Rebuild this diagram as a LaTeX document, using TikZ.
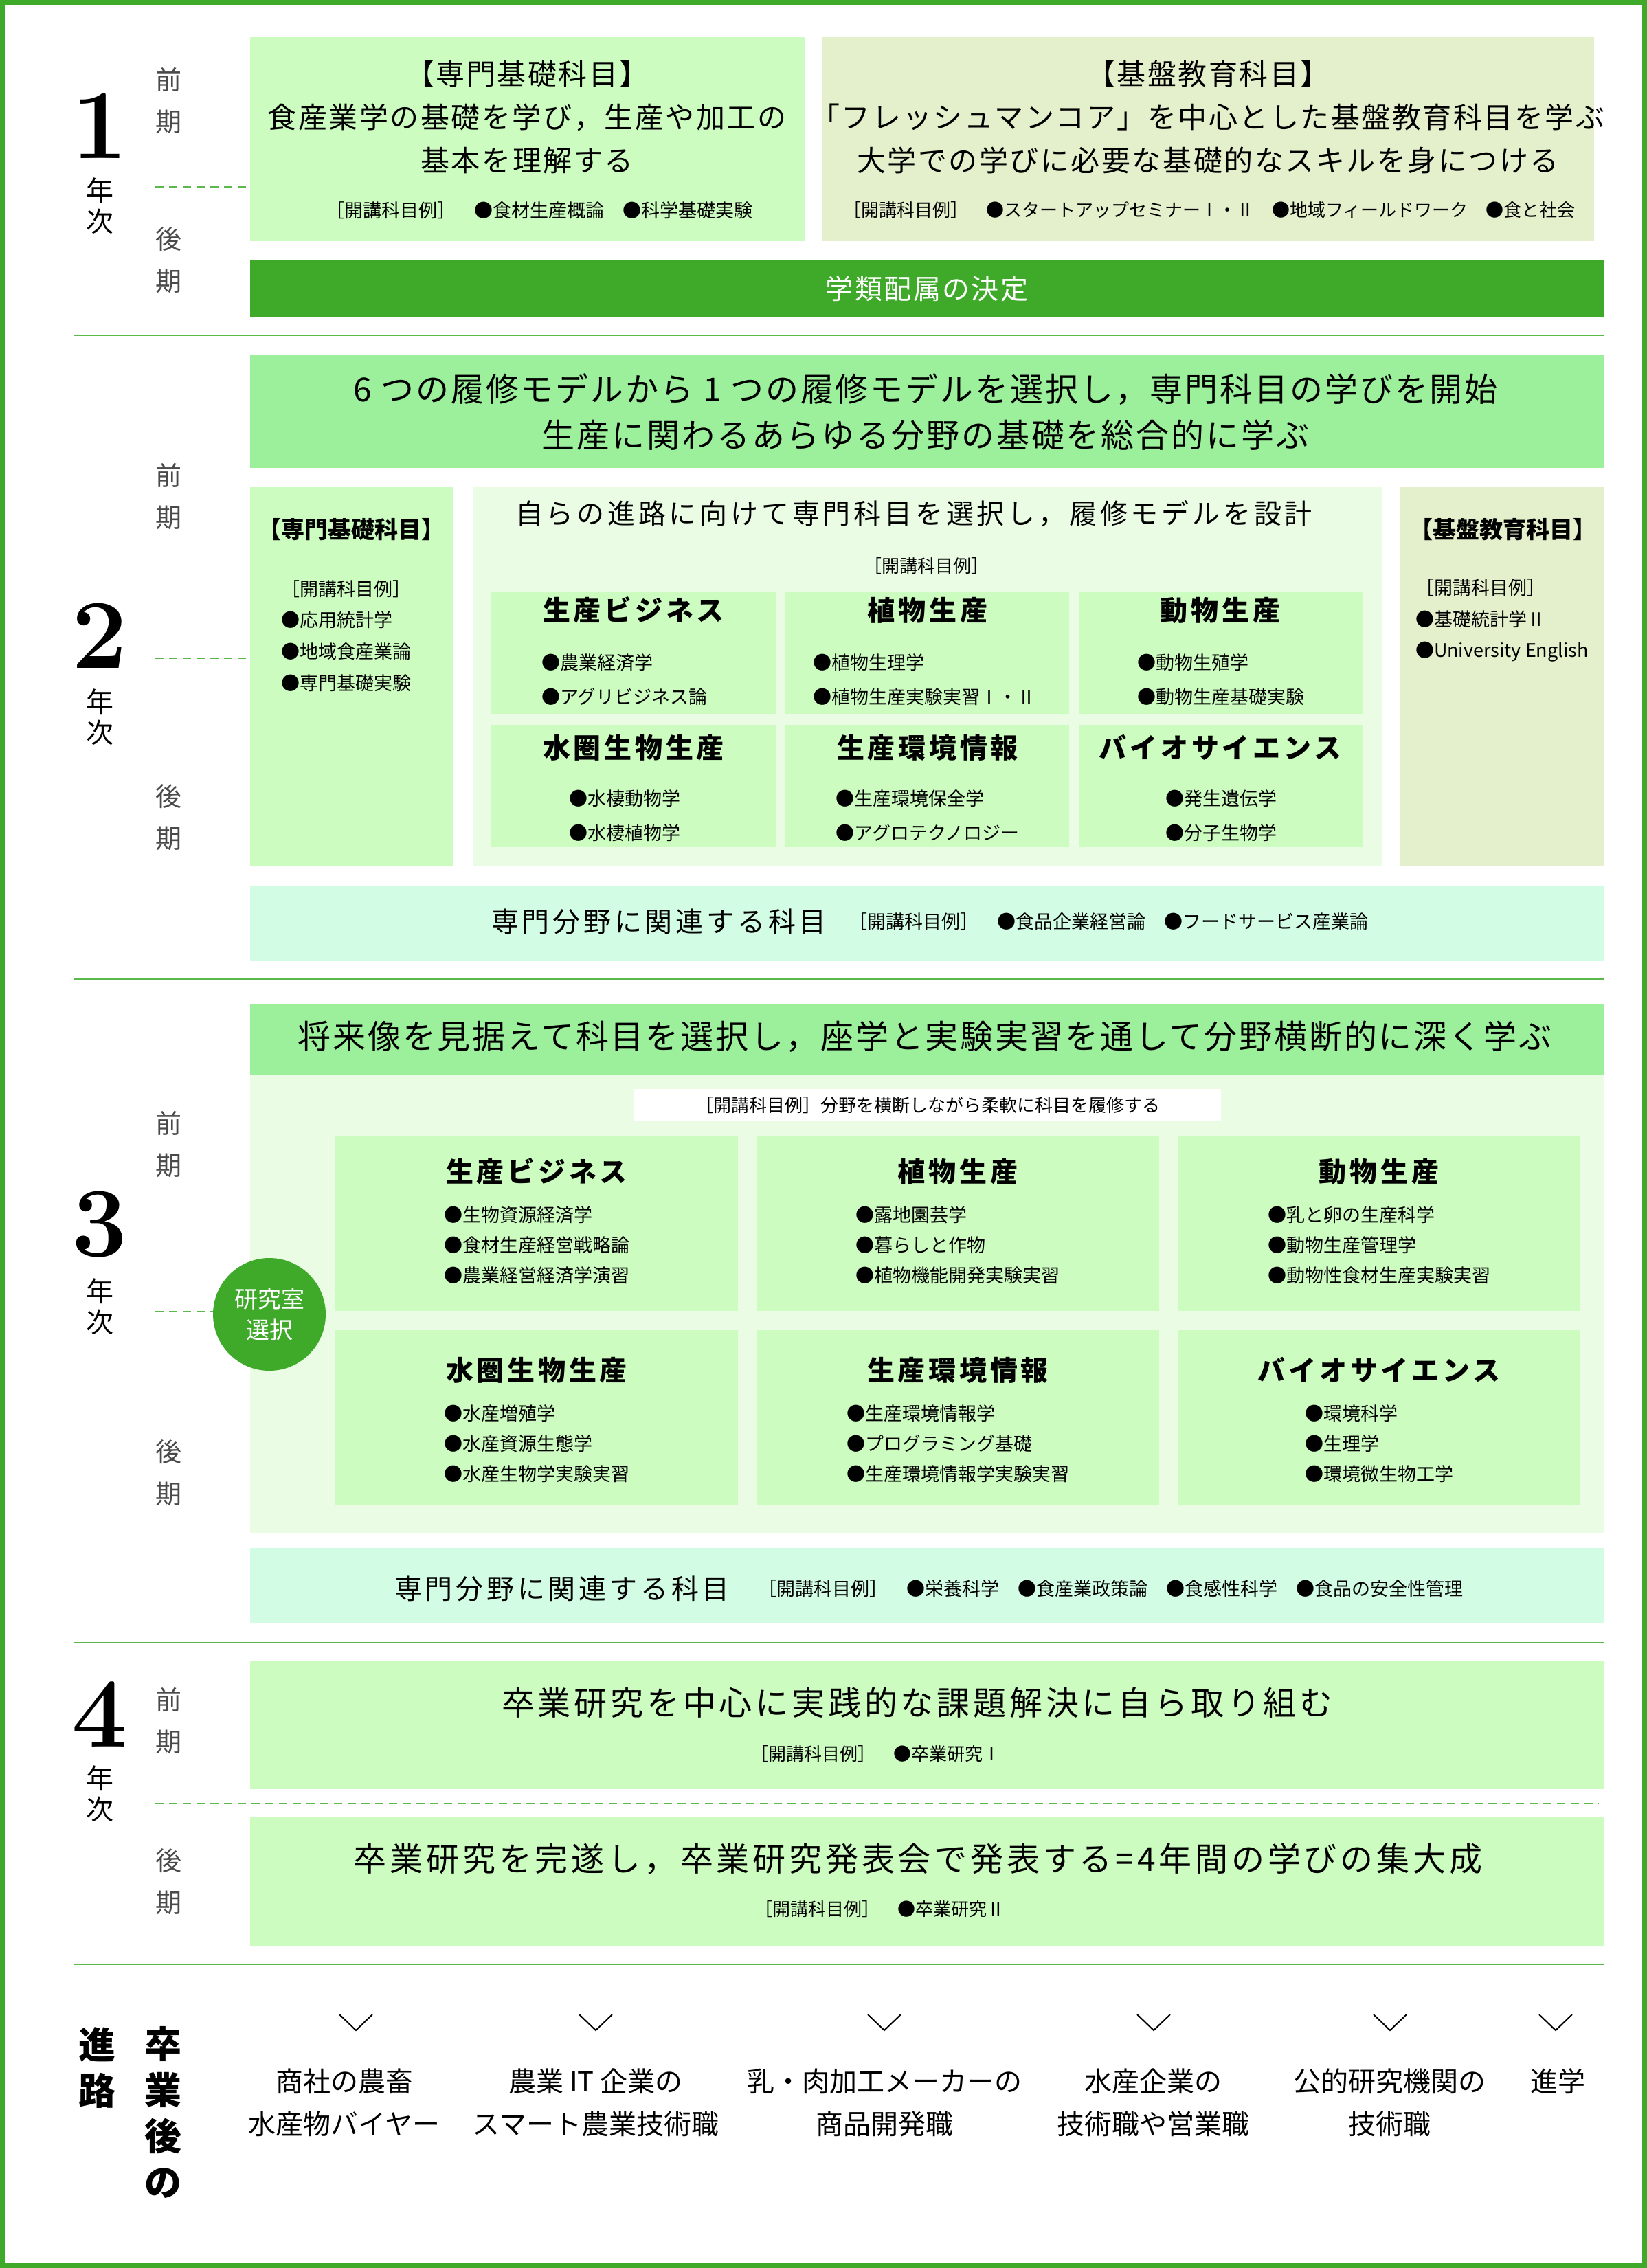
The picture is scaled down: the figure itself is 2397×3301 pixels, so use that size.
\documentclass[tikz,border=0pt]{standalone}
\usepackage{fontspec}
\newfontfamily\jp{Noto Sans CJK JP}
\newfontfamily\jpsp{Noto Sans CJK JP}[LetterSpace=6]
\newfontfamily\jpsw{Noto Sans CJK JP}[LetterSpace=10]
\newfontfamily\jpsq{Noto Sans CJK JP}[LetterSpace=12]
\definecolor{grn}{HTML}{3FAA29}
\definecolor{sepc}{HTML}{5BB84B}
\definecolor{lb}{HTML}{CCFCC0}
\definecolor{olv}{HTML}{E4F0CB}
\definecolor{bandg}{HTML}{9DF09B}
\definecolor{cont}{HTML}{EAFCE4}
\definecolor{mint}{HTML}{D2FCE4}
\definecolor{kig}{HTML}{4A4A4A}
\newcommand\bx[6]{\node[bxs, fill=#2, minimum width={(#5)-(#3)}, minimum height={(#6)-(#4)}] (#1) at ({((#3)+(#5))/2},{((#4)+(#6))/2}) {};}
\tikzset{
 bxs/.style={rectangle, inner sep=0pt, outer sep=0pt, draw=none},
 every node/.append style={inner sep=0pt, outer sep=0pt},
 head/.style={font=\jpsp\fontsize{42}{63}\selectfont, align=center},
 sub/.style={font=\jp\fontsize{26}{30}\selectfont},
 subl/.style={font=\jp\fontsize{27}{30}\selectfont},
 big/.style={font=\jpsp\fontsize{48}{67}\selectfont, align=center},
 ttl/.style={font=\jpsq\bfseries\fontsize{40}{40}\selectfont},
 items/.style={font=\jp\fontsize{27}{#1}\selectfont, align=left},
 num/.style={font=\bfseries\fontsize{144}{144}\selectfont},
 nen/.style={font=\jp\fontsize{40}{45}\selectfont, align=center},
 ki/.style={font=\jp\fontsize{38}{61}\selectfont, align=center, text=kig},
 sepl/.style={draw=sepc, line width=2.5pt},
 dsh/.style={draw=sepc, line width=2pt, dash pattern=on 12pt off 8pt},
 chev/.style={draw=black, line width=2pt},
 car/.style={font=\jp\fontsize{40}{62}\selectfont, align=center},
 cv/.style={font=\jp\bfseries\fontsize{54}{67}\selectfont, align=center},
 rel/.style={font=\jpsq\fontsize{40}{40}\selectfont},
 head2/.style={font=\jp\bfseries\fontsize{34}{34}\selectfont},
 y4h/.style={font=\jpsw\fontsize{48}{48}\selectfont},
}
\begin{document}
\begin{tikzpicture}[x=1pt,y=-1pt]
\useasboundingbox (0,0) rectangle (2397,3301);
\fill[white] (0,0) rectangle (2397,3301);
\draw[grn, line width=7pt] (3.5,3.5) rectangle (2393.5,3297.5);

% ===== Year 1 =====
\bx{y1a}{lb}{364}{54}{1171}{351}
\bx{y1b}{olv}{1196}{54}{2320}{351}
\bx{y1band}{grn}{364}{378}{2335}{461}
\node[head] (y1at) at (767,170) {【専門基礎科目】\\食産業学の基礎を学び，生産や加工の\\基本を理解する};
\node[subl] (y1as) at (785,306) {［開講科目例］\quad●食材生産概論\quad●科学基礎実験};
\node[head] (y1bt) at (1758,170) {【基盤教育科目】\\「フレッシュマンコア」を中心とした基盤教育科目を学ぶ\\大学での学びに必要な基礎的なスキルを身につける};
\node[sub] (y1bs) at (1760,306) {［開講科目例］\quad●スタートアップセミナーⅠ・Ⅱ\quad●地域フィールドワーク\quad●食と社会};
\node[font=\jpsp\fontsize{40}{40}\selectfont, text=white] (y1bandt) at (1349,420) {学類配属の決定};
\node[num] (n1) at (145,183) {1};
\node[nen] (nj1) at (145,300) {年\\次};
\node[ki] (k1a) at (245,146.5) {前\\期};
\node[ki] (k1b) at (245,378.5) {後\\期};
\coordinate (d1s) at (226,272);
\draw[dsh] (d1s) -- (d1s -| y1a.west);

% ===== Year 2 =====
\coordinate (s1a) at (107,488); \coordinate (s1b) at (2335,488);
\draw[sepl] (s1a) -- (s1b);
\bx{y2band}{bandg}{364}{516}{2335}{681}
\node[big] (y2bt) at (1347,599.5) {6 つの履修モデルから 1 つの履修モデルを選択し，専門科目の学びを開始\\生産に関わるあらゆる分野の基礎を総合的に学ぶ};
\bx{y2l}{lb}{364}{709}{660}{1261}
\node[head2] (y2lt) at (511,771) {【専門基礎科目】};
\node[items=45.7, anchor=west] (y2ll) at (409,925.5) {［開講科目例］\\●応用統計学\\●地域食産業論\\●専門基礎実験};
\bx{y2m}{cont}{689}{709}{2011}{1261}
\node[font=\jpsq\fontsize{40}{40}\selectfont] (y2mt) at (1330,748) {自らの進路に向けて専門科目を選択し，履修モデルを設計};
\node[sub] (y2ms) at (1348,824) {［開講科目例］};
\bx{y2c11}{lb}{715}{862}{1129}{1039}
\bx{y2c12}{lb}{1143}{862}{1556}{1039}
\bx{y2c13}{lb}{1570}{862}{1983}{1039}
\bx{y2c21}{lb}{715}{1055}{1129}{1233}
\bx{y2c22}{lb}{1143}{1055}{1556}{1233}
\bx{y2c23}{lb}{1570}{1055}{1983}{1233}
\node[ttl] (y2t11) at (922,888) {生産ビジネス};
\node[ttl] (y2t12) at (1350,888) {植物生産};
\node[ttl] (y2t13) at (1776,888) {動物生産};
\node[ttl] (y2t21) at (922,1088) {水圏生物生産};
\node[ttl] (y2t22) at (1350,1088) {生産環境情報};
\node[ttl] (y2t23) at (1776,1088) {バイオサイエンス};
\node[items=50] (y2i11) at (909,989) {●農業経済学\\●アグリビジネス論};
\node[items=50] (y2i12) at (1345,989) {●植物生理学\\●植物生産実験実習Ⅰ・Ⅱ};
\node[items=50] (y2i13) at (1777,989) {●動物生殖学\\●動物生産基礎実験};
\node[items=50] (y2i21) at (909,1187.5) {●水棲動物学\\●水棲植物学};
\node[items=50] (y2i22) at (1350,1187.5) {●生産環境保全学\\●アグロテクノロジー};
\node[items=50] (y2i23) at (1777,1187.5) {●発生遺伝学\\●分子生物学};
\bx{y2r}{olv}{2038}{709}{2335}{1261}
\node[head2] (y2rt) at (2187,771) {【基盤教育科目】};
\node[items=45.7, anchor=west] (y2rl) at (2060,903) {［開講科目例］\\●基礎統計学Ⅱ\\●University English};
\bx{y2bot}{mint}{364}{1289}{2335}{1398}
\node[rel] (y2bott) at (959,1341) {専門分野に関連する科目};
\node[subl] (y2bots) at (1613,1341) {［開講科目例］\quad●食品企業経営論\quad●フードサービス産業論};
\node[num] (n2) at (145,925) {2};
\node[nen] (nj2) at (145,1043.5) {年\\次};
\node[ki] (k2a) at (245,722.5) {前\\期};
\node[ki] (k2b) at (245,1190) {後\\期};
\coordinate (d2s) at (226,958);
\draw[dsh] (d2s) -- (d2s -| y2l.west);

% ===== Year 3 =====
\coordinate (s2a) at (107,1425); \coordinate (s2b) at (2335,1425);
\draw[sepl] (s2a) -- (s2b);
\bx{y3band}{bandg}{364}{1461}{2335}{1564}
\node[big] (y3bt) at (1346,1509) {将来像を見据えて科目を選択し，座学と実験実習を通して分野横断的に深く学ぶ};
\bx{y3c}{cont}{364}{1564}{2335}{2231}
\bx{y3w}{white}{922}{1585}{1777}{1632}
\node[sub] (y3wt) at (1350,1609) {［開講科目例］分野を横断しながら柔軟に科目を履修する};
\bx{y3c11}{lb}{488}{1653}{1074}{1908}
\bx{y3c12}{lb}{1102}{1653}{1687}{1908}
\bx{y3c13}{lb}{1715}{1653}{2300}{1908}
\bx{y3c21}{lb}{488}{1936}{1074}{2191}
\bx{y3c22}{lb}{1102}{1936}{1687}{2191}
\bx{y3c23}{lb}{1715}{1936}{2300}{2191}
\node[ttl] (y3t11) at (781,1705) {生産ビジネス};
\node[ttl] (y3t12) at (1394,1705) {植物生産};
\node[ttl] (y3t13) at (2007,1705) {動物生産};
\node[ttl] (y3t21) at (781,1994) {水圏生物生産};
\node[ttl] (y3t22) at (1394,1994) {生産環境情報};
\node[ttl] (y3t23) at (2007,1994) {バイオサイエンス};
\node[items=44] (y3i11) at (781,1812) {●生物資源経済学\\●食材生産経営戦略論\\●農業経営経済学演習};
\node[items=44] (y3i12) at (1394,1812) {●露地園芸学\\●暮らしと作物\\●植物機能開発実験実習};
\node[items=44] (y3i13) at (2007,1812) {●乳と卵の生産科学\\●動物生産管理学\\●動物性食材生産実験実習};
\node[items=44] (y3i21) at (781,2101) {●水産増殖学\\●水産資源生態学\\●水産生物学実験実習};
\node[items=44] (y3i22) at (1394,2101) {●生産環境情報学\\●プログラミング基礎\\●生産環境情報学実験実習};
\node[items=44] (y3i23) at (2007,2101) {●環境科学\\●生理学\\●環境微生物工学};
\node[circle, fill=grn, minimum size=164pt, text=white, font=\jp\fontsize{34}{45}\selectfont, align=center] (lab) at (392,1913) {研究室\\選択};
\coordinate (d3s) at (226,1909);
\draw[dsh] (d3s) -- (d3s -| lab.west);
\node[num] (n3) at (145,1782) {3};
\node[nen] (nj3) at (145,1901.5) {年\\次};
\node[ki] (k3a) at (245,1665.5) {前\\期};
\node[ki] (k3b) at (245,2143.5) {後\\期};
\bx{y3bot}{mint}{364}{2253}{2335}{2362}
\node[rel] (y3bott) at (818,2312) {専門分野に関連する科目};
\node[subl] (y3bots) at (1616,2312) {［開講科目例］\quad●栄養科学\quad●食産業政策論\quad●食感性科学\quad●食品の安全性管理};

% ===== Year 4 =====
\coordinate (s3a) at (107,2391); \coordinate (s3b) at (2335,2391);
\draw[sepl] (s3a) -- (s3b);
\bx{y4a}{lb}{364}{2418}{2335}{2604}
\node[y4h] (y4at) at (1335,2478) {卒業研究を中心に実践的な課題解決に自ら取り組む};
\node[sub] (y4as) at (1274,2553) {［開講科目例］\quad●卒業研究Ⅰ};
\coordinate (d4s) at (226,2625); \coordinate (d4e) at (2327,2625);
\draw[dsh] (d4s) -- (d4e);
\bx{y4b}{lb}{364}{2645}{2335}{2832}
\node[y4h] (y4bt) at (1336,2706) {卒業研究を完遂し，卒業研究発表会で発表する=4年間の学びの集大成};
\node[sub] (y4bs) at (1280,2779) {［開講科目例］\quad●卒業研究Ⅱ};
\node[num] (n4) at (145,2495) {4};
\node[nen] (nj4) at (145,2611) {年\\次};
\node[ki] (k4a) at (245,2505) {前\\期};
\node[ki] (k4b) at (245,2739) {後\\期};

% ===== Careers =====
\coordinate (s4a) at (107,2859); \coordinate (s4b) at (2335,2859);
\draw[sepl] (s4a) -- (s4b);
\node[cv] (cr1) at (141,3009.5) {進\\路};
\node[cv] (cr2) at (237,3074.5) {卒\\業\\後\\の};
\foreach \i/\x in {1/518,2/867,3/1287,4/1679,5/2023,6/2264}{
  \coordinate (v\i) at (\x,2943.5);
  \draw[chev] ([xshift=-24pt,yshift=11.5pt]v\i) -- ([yshift=-11.5pt]v\i) -- ([xshift=24pt,yshift=11.5pt]v\i);
}
\node[car] (j1) at (501,3060) {商社の農畜\\水産物バイヤー};
\node[car] (j2) at (867,3060) {農業 IT 企業の\\スマート農業技術職};
\node[car] (j3) at (1287,3060) {乳・肉加工メーカーの\\商品開発職};
\node[car] (j4) at (1678,3060) {水産企業の\\技術職や営業職};
\node[car] (j5) at (2022,3060) {公的研究機関の\\技術職};
\node[car] (j6) at (2267,3029) {進学};
\end{tikzpicture}
\end{document}
